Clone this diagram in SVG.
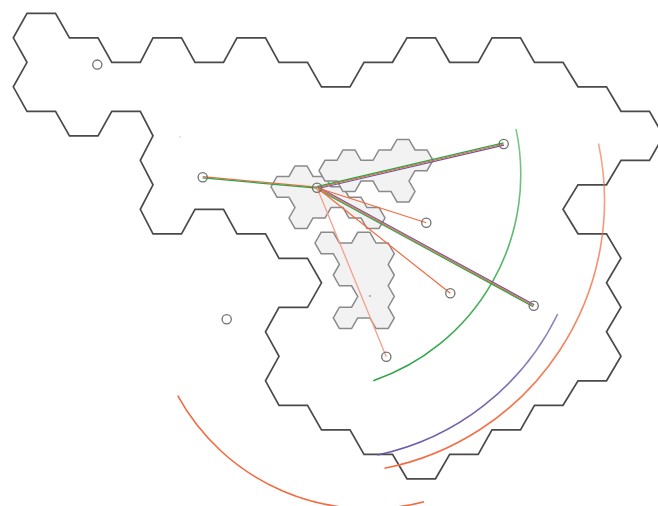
<svg xmlns="http://www.w3.org/2000/svg" width="658" height="506" viewBox="0 0 658 506">
<style>
.wall{fill:none;stroke:#4a4a4a;stroke-width:1.7;stroke-linejoin:miter}
.obs{fill:#f2f2f2;stroke:#8a8a8a;stroke-width:1.5;stroke-linejoin:miter}
.node{fill:none;stroke:#707070;stroke-width:1.3}
.g{stroke:#2ca445;stroke-width:1.2;fill:none}
.o{stroke:#f26b40;stroke-width:1.2;fill:none}
.p{stroke:#6a55a8;stroke-width:1.2;fill:none}
.s{stroke:#f5a088;stroke-width:1.3;fill:none}
.arc{fill:none;stroke-width:1.6}
</style>
<defs>
<linearGradient id="gGreen" gradientUnits="userSpaceOnUse" x1="0" y1="129" x2="0" y2="381">
<stop offset="0" stop-color="#2ca445" stop-opacity="0.6"/><stop offset="1" stop-color="#2ca445" stop-opacity="1"/>
</linearGradient>
<linearGradient id="gOrange" gradientUnits="userSpaceOnUse" x1="0" y1="143" x2="0" y2="468">
<stop offset="0" stop-color="#f26b40" stop-opacity="0.6"/><stop offset="1" stop-color="#f26b40" stop-opacity="1"/>
</linearGradient>
<linearGradient id="gPurple" gradientUnits="userSpaceOnUse" x1="0" y1="314" x2="0" y2="455">
<stop offset="0" stop-color="#6a55a8" stop-opacity="0.7"/><stop offset="1" stop-color="#6a55a8" stop-opacity="1"/>
</linearGradient>
</defs>
<rect width="658" height="506" fill="#ffffff"/>
<g id="walls">
<path class="wall" d="M27,13.3 L55.5,13.3 L69.5,37.8 L98,37.8 L111.8,62.3 L140.3,62.3 L153,37.8 L181.5,37.8 L195,62.3 L223.5,62.3 L237,37.8 L265.5,37.8 L279,62.3 L307.5,62.3 L321.5,86.8 L350,86.8 L364,62.3 L392.5,62.3 L407,37.8 L435.5,37.8 L449.7,62.3 L478.2,62.3 L492,37.8 L520.5,37.8 L534.5,62.3 L563,62.3 L578,86.8 L606.5,86.8 L621,111.3 L649.5,111.3 L663.5,135.8 L649.5,160.3 L621,160.3 L606.5,184.8 L578,184.8 L563,209.3 L578,233.8 L606.5,233.8 L621,258.3 L606.5,282.8 L621,307.3 L606.5,331.8 L621,356.3 L606.5,380.8 L578,380.8 L563,405.3 L534.5,405.3 L520.5,429.8 L492,429.8 L478.2,454.3 L449.7,454.3 L435.5,478.8 L407,478.8 L392.5,454.3 L364,454.3 L350,429.8 L321.5,429.8 L307.5,405.3 L279,405.3 L265.5,380.8 L279,356.3 L265.5,331.8 L279,307.3 L307.5,307.3 L321.5,282.8 L307.5,258.3 L279,258.3 L265.5,233.8 L237,233.8 L223.5,209.3 L195,209.3 L181.5,233.8 L153,233.8 L140.3,209.3 L153,184.8 L140.3,160.3 L153,135.8 L140.3,111.3 L111.8,111.3 L98,135.8 L69.5,135.8 L55.5,111.3 L27,111.3 L13.3,86.8 L27,62.3 L13.3,37.8 Z"/>
</g>
<g id="obstacles">
<path id="obstacle-left" class="obs" d="M271,186.8 L277,176.4 L289,176.4 L295,166 L307,166 L313,176.4 L325,176.4 L331,186.8 L343,186.8 L349,197.2 L361,197.2 L367,207.6 L379,207.6 L385,218 L379,228.4 L367,228.4 L361,218 L349,218 L343,207.6 L331,207.6 L325,218 L313,218 L307,228.4 L295,228.4 L289,218 L295,207.6 L289,197.2 L277,197.2 Z"/>
<path id="obstacle-top" class="obs" d="M319,170.7 L325,160.3 L337,160.3 L343,149.9 L355,149.9 L361,160.3 L373,160.3 L379,149.9 L391,149.9 L397,139.5 L409,139.5 L415,149.9 L427,149.9 L433,160.3 L427,170.7 L415,170.7 L409,181.1 L415,191.5 L409,201.9 L397,201.9 L391,191.5 L379,191.5 L373,181.1 L361,181.1 L355,191.5 L343,191.5 L337,181.1 L325,181.1 Z"/>
<path id="obstacle-bottom" class="obs" d="M315,243 L321.1,232.3 L333.3,232.3 L339.4,243 L351.6,243 L357.7,232.3 L369.9,232.3 L376,243 L388.2,243 L394.3,253.7 L388.2,264.4 L394.3,275.1 L388.2,285.8 L394.3,296.5 L388.2,307.2 L394.3,317.9 L388.2,328.6 L376,328.6 L369.9,317.9 L357.7,317.9 L351.6,328.6 L339.4,328.6 L333.3,317.9 L339.4,307.2 L351.6,307.2 L357.7,296.5 L351.6,285.8 L339.4,285.8 L333.3,275.1 L339.4,264.4 L333.3,253.7 L321.1,253.7 Z"/>
<circle cx="370" cy="296" r="0.8" fill="#666"/>
<circle cx="180" cy="137" r="0.7" fill="#bbb"/>
</g>
<g id="arcs">
<path class="arc" stroke="url(#gGreen)" d="M516,129 A218,218 0 0 1 373.3,380.7"/>
<path class="arc" stroke="url(#gPurple)" d="M557.7,314 A260,260 0 0 1 377.5,455"/>
<path class="arc" stroke="url(#gOrange)" d="M598.5,143.5 A273,273 0 0 1 384.5,468.3"/>
<path class="arc" stroke="#f26b40" d="M177.7,395.7 A218,218 0 0 0 424,501.7"/>
</g>
<g id="connectors">
<line class="o" x1="317" y1="187.1" x2="202.7" y2="176.7"/>
<line class="g" x1="317" y1="188.2" x2="202.7" y2="177.9"/>
<line class="p" x1="317.25" y1="188.77" x2="503.95" y2="145.07"/>
<line class="o" x1="317" y1="187.7" x2="503.7" y2="144"/>
<line class="g" x1="316.75" y1="186.63" x2="503.45" y2="142.93"/>
<line class="p" x1="317.53" y1="186.73" x2="534.23" y2="304.73"/>
<line class="o" x1="317" y1="187.7" x2="533.7" y2="305.7"/>
<line class="g" x1="316.47" y1="188.67" x2="533.17" y2="306.67"/>
<line class="o" x1="317" y1="187.7" x2="426.3" y2="222.7"/>
<line class="o" x1="317" y1="187.7" x2="450.3" y2="293.3"/>
<line class="s" x1="317" y1="187.7" x2="386.3" y2="356.7"/>
</g>
<g id="node-source"><circle class="node" cx="317" cy="187.7" r="4.6"/></g>
<g id="node-a"><circle class="node" cx="97.3" cy="64.6" r="4.6"/></g>
<g id="node-b"><circle class="node" cx="202.7" cy="177.3" r="4.6"/></g>
<g id="node-c"><circle class="node" cx="503.7" cy="144" r="4.6"/></g>
<g id="node-d"><circle class="node" cx="426.3" cy="222.7" r="4.6"/></g>
<g id="node-e"><circle class="node" cx="450.3" cy="293.3" r="4.6"/></g>
<g id="node-f"><circle class="node" cx="533.7" cy="305.7" r="4.6"/></g>
<g id="node-g"><circle class="node" cx="226.7" cy="319.3" r="4.6"/></g>
<g id="node-h"><circle class="node" cx="386.3" cy="356.7" r="4.6"/></g>
</svg>
